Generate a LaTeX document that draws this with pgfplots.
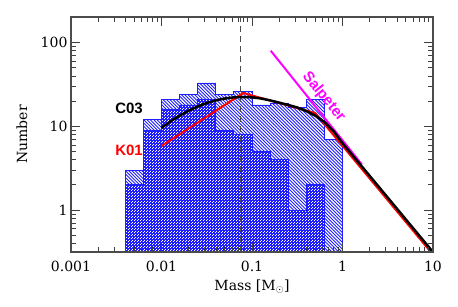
\documentclass[border=0pt]{standalone}
\usepackage{fontspec}
\setmainfont{DejaVu Serif}
\newfontfamily\labfont{Liberation Sans}
\usepackage{pgfplots}
\pgfplotsset{compat=1.18}
\usetikzlibrary{patterns}

\pgfdeclarepatternformonly{hatchnw}{\pgfqpoint{-1pt}{-1pt}}{\pgfqpoint{4.3pt}{4.3pt}}{\pgfqpoint{3.3pt}{3.3pt}}{%
  \pgfsetlinewidth{0.85pt}\pgfpathmoveto{\pgfqpoint{0pt}{3.3pt}}\pgfpathlineto{\pgfqpoint{3.4pt}{-0.1pt}}\pgfusepath{stroke}}
\pgfdeclarepatternformonly{wdots}{\pgfpointorigin}{\pgfqpoint{2.5pt}{2.5pt}}{\pgfqpoint{2.5pt}{2.5pt}}{%
  \pgfpathrectangle{\pgfpointorigin}{\pgfqpoint{1.1pt}{1.1pt}}%
  \pgfpathrectangle{\pgfqpoint{1.25pt}{1.25pt}}{\pgfqpoint{1.1pt}{1.1pt}}\pgfusepath{fill}}

\definecolor{hblue}{RGB}{30,30,255}
\definecolor{mag}{RGB}{255,0,255}

\begin{document}
\begin{tikzpicture}
\begin{axis}[
  xmode=log, ymode=log,
  scale only axis, width=362pt, height=235pt,
  xmin=0.001, xmax=10, ymin=0.316, ymax=202,
  axis on top,
  xtick={0.001,0.01,0.1,1,10},
  xticklabels={0.001,0.01,0.1,1,10},
  ytick={1,10,100},
  yticklabels={1,10,100},
  minor xtick={0.002,0.003,0.004,0.005,0.006,0.007,0.008,0.009,
               0.02,0.03,0.04,0.05,0.06,0.07,0.08,0.09,
               0.2,0.3,0.4,0.5,0.6,0.7,0.8,0.9,
               2,3,4,5,6,7,8,9},
  minor ytick={0.4,0.5,0.6,0.7,0.8,0.9,2,3,4,5,6,7,8,9,20,30,40,50,60,70,80,90,200},
  /pgf/number format/assume math mode=true,
  tick align=inside, major tick length=9pt, minor tick length=5pt,
  xtick pos=both, ytick pos=both,
  axis line style={line width=1.2pt, black!70},
  every tick/.style={black!75, line width=0.8pt},
  tick label style={font=\fontsize{14}{16}\selectfont},
  xticklabel style={yshift=-6pt},
  label style={font=\fontsize{14}{16}\selectfont},
  xlabel={Mass [M\textsubscript{$\odot$}]},
  ylabel={Number},
  xlabel style={at={(axis description cs:0.5,0)}, anchor=center, yshift=-35pt},
  ylabel style={at={(axis description cs:0,0.5)}, anchor=center, rotate=0, yshift=49pt},
]
\coordinate (sw) at (rel axis cs:0,0);
\coordinate (ne) at (rel axis cs:1,1);

% total sample (hatched)
\addplot[const plot mark left, draw=hblue, line width=0.8pt, pattern=hatchnw, pattern color=hblue]
 coordinates {(0.003981,0.1) (0.003981,3) (0.006310,12) (0.01,21) (0.015849,24) (0.025119,33)
  (0.039811,24) (0.063096,26) (0.1,18) (0.158489,19) (0.251189,17) (0.398107,21) (0.630957,7) (1,7) (1,0.1)};

% sub-sample (cross-hatched)
\addplot[const plot mark left, draw=hblue, line width=0.8pt, fill=hblue,
  postaction={pattern=wdots, pattern color=white}]
 coordinates {(0.003981,0.1) (0.003981,2) (0.006310,9) (0.01,16) (0.015849,18) (0.025119,21)
  (0.039811,9) (0.063096,8) (0.1,5) (0.158489,4) (0.251189,1) (0.398107,2) (0.630957,0.1)};

% dashed line
\addplot[black!70, line width=0.8pt, dash pattern=on 6pt off 4pt] coordinates {(0.075,0.316) (0.075,202)};

% Salpeter
\addplot[mag, line width=2pt] coordinates {(0.161,80) (1.64,3.5)};

% K01
\addplot[red, line width=2pt] coordinates {(0.01,5.83) (0.08,25) (0.5,14.4) (10,0.294)};

% C03
\addplot[black, line width=2.5pt] coordinates {
 (0.01,9.60) (0.012589,11.47) (0.015849,13.42) (0.019953,15.38) (0.025119,17.26)
 (0.031623,18.96) (0.039811,20.40) (0.050119,21.49) (0.063096,22.17) (0.079433,22.4)
 (0.1,22.2) (0.125893,21.5) (0.158489,20.4) (0.199526,19.2) (0.251189,18.0)
 (0.316228,16.8) (0.398107,15.2) (0.501187,13.4) (0.630957,11.3) (0.794328,8.8)
 (1,6.3) (10,0.315)};

\node[font=\labfont\bfseries\fontsize{15}{17}\selectfont] at (axis cs:0.00438,16.2) {C03};
\node[font=\labfont\bfseries\fontsize{15}{17}\selectfont, text=red] at (axis cs:0.00438,5.14) {K01};
\node[font=\labfont\bfseries\fontsize{15}{17}\selectfont, text=mag, rotate=-51, inner sep=0pt] at (axis cs:0.62,22.5) {Salpeter};
\end{axis}
\pgfresetboundingbox
\path ([shift={(-71pt,-54pt)}]sw) rectangle ([shift={(25pt,17pt)}]ne);
\end{tikzpicture}
\end{document}
